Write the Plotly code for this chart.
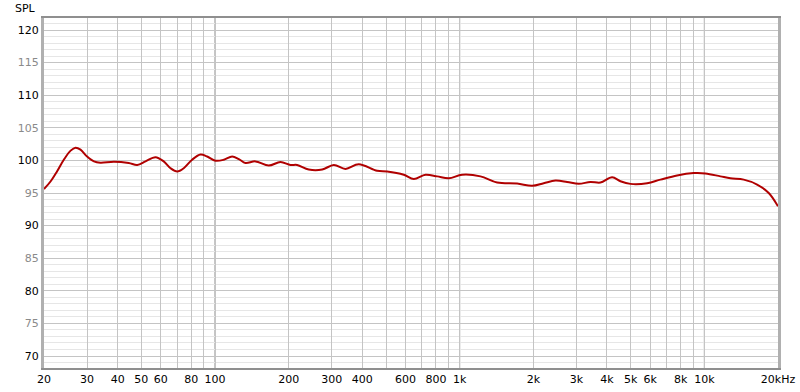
import plotly.graph_objects as go

freq_hz = [20, 21.3, 22.6, 24.1, 25.7, 26.9, 28.2, 30.0, 32.0, 34.0, 38.6, 44.4, 48.1, 52.0, 57.1,
           61.7, 65.8, 70.1, 74.5, 80.6, 87.2, 92.9, 100.4, 108.6, 117.5, 125.1, 133.2, 146.3,
           165.8, 185.1, 203.4, 216.6, 241.6, 274.2, 305.8, 341.4, 386.8, 460.0, 505.4, 590.9,
           649.3, 724.9, 809.3, 902.6, 1023, 1216, 1423, 1717, 1978, 2205, 2462, 2749, 3066,
           3423, 3761, 4199, 4539, 4987, 5838, 6612, 7737, 9048, 10101, 11636, 12784, 14487,
           16430, 18330, 20000]
spl_db = [95.6, 96.8, 98.3, 100.1, 101.5, 101.95, 101.65, 100.6, 99.85, 99.65, 99.8, 99.6, 99.3,
          99.85, 100.5, 99.85, 98.8, 98.3, 98.8, 100.1, 100.9, 100.6, 99.95, 100.1, 100.6, 100.2,
          99.6, 99.85, 99.2, 99.75, 99.3, 99.3, 98.6, 98.6, 99.3, 98.7, 99.4, 98.4, 98.3, 97.8,
          97.15, 97.8, 97.55, 97.25, 97.8, 97.55, 96.6, 96.45, 96.1, 96.5, 96.9, 96.7, 96.4,
          96.7, 96.6, 97.4, 96.8, 96.4, 96.5, 97.05, 97.7, 98.05, 98.0, 97.55, 97.25, 97.05,
          96.3, 95.0, 92.95]

x_tick_vals = [20, 30, 40, 50, 60, 70, 80, 90, 100, 200, 300, 400, 500, 600, 700, 800, 900,
               1000, 2000, 3000, 4000, 5000, 6000, 7000, 8000, 9000, 10000, 20000]
x_tick_text = ["20", "30", "40", "50", "60", "", "80", "", "100", "200", "300", "400", "",
               "600", "", "800", "", "1k", "2k", "3k", "4k", "5k", "6k", "", "8k", "", "10k",
               "20kHz"]
decades = [100, 1000, 10000]
y_tick_vals = [70, 75, 80, 85, 90, 95, 100, 105, 110, 115, 120]
y_tick_text = [str(v) if v % 10 == 0 else '<span style="color:#8a8a8a">%d</span>' % v
               for v in y_tick_vals]

fig = go.Figure()
fig.add_trace(go.Scatter(x=freq_hz, y=spl_db, mode="lines",
                         line=dict(color="#b00000", width=2, shape="spline", smoothing=1.0),
                         showlegend=False))

for d in decades:
    fig.add_shape(type="line", xref="x", yref="paper", x0=d, x1=d, y0=0, y1=1,
                  line=dict(color="#8c8c8c", width=1), layer="below")

fig.update_layout(
    width=800, height=392,
    margin=dict(l=44, r=22, t=18, b=24),
    paper_bgcolor="white", plot_bgcolor="white",
    font=dict(family="DejaVu Sans", size=11, color="#000"),
    xaxis=dict(type="log", range=[1.30103, 4.30103], tickvals=x_tick_vals, ticktext=x_tick_text,
               showgrid=True, gridcolor="#c4c4c4", gridwidth=1, ticks="", zeroline=False,
               showline=True, linecolor="#8f8f8f", linewidth=2, mirror=True, automargin=False,
               tickfont=dict(size=11, color="#000")),
    yaxis=dict(range=[68.16, 121.84], tickvals=y_tick_vals, ticktext=y_tick_text,
               showgrid=True, gridcolor="#c4c4c4", gridwidth=1, ticks="", zeroline=False,
               minor=dict(dtick=1, showgrid=True, gridcolor="#e6e6e6", gridwidth=1),
               showline=True, linecolor="#b0b0b0", linewidth=3, mirror=True, automargin=False,
               tickfont=dict(size=11, color="#000")),
    annotations=[dict(text="SPL", xref="paper", yref="paper", x=-0.025, y=1.0, yshift=10,
                      xanchor="center", yanchor="middle", showarrow=False,
                      font=dict(size=11, color="#000"))],
)

fig.write_html("out.html")
